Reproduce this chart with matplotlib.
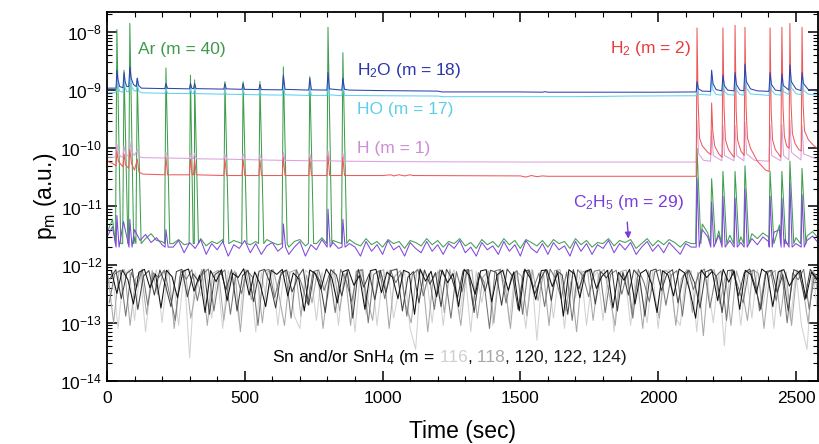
import numpy as np
import matplotlib
matplotlib.use("Agg")
import matplotlib.pyplot as plt
from matplotlib.offsetbox import TextArea, HPacker, AnnotationBbox
from matplotlib.ticker import LogLocator, MultipleLocator, NullFormatter

plt.rcParams['font.family'] = ['Liberation Sans', 'DejaVu Sans']
plt.rcParams['mathtext.fontset'] = 'custom'
plt.rcParams['mathtext.rm'] = 'Liberation Sans'
plt.rcParams['mathtext.it'] = 'Liberation Sans:italic'
plt.rcParams['mathtext.bf'] = 'Liberation Sans:bold'

# ------------------------------------------------------------------
# DATA
# ------------------------------------------------------------------
STEP = 20  # sec between samples of the noisy traces

# the five Sn masses are scanned one after the other, so their samples are shifted in time
SN_OFFSETS = [0, 4, 8, 12, 16]

# Sn / SnH4 traces, units of 1e-13
SN116 = [3.5, 7.9, 0.8, 6.7, 8.1, 1.1, 7.4, 0.7, 5.0, 8.2,
         1.0, 7.2, 6.1, 0.9, 8.0, 0.25, 7.6, 2.9, 8.3, 1.2,
         6.9, 0.8, 7.9, 4.2, 1.0, 8.1, 6.5, 0.7, 7.3, 2.3,
         8.2, 0.9, 5.9, 7.7, 1.3, 0.8, 8.0, 6.8, 1.1, 7.5,
         2.6, 8.1, 0.9, 7.0, 5.5, 0.7, 8.2, 1.4, 7.8, 0.9,
         6.2, 8.0, 1.2, 3.7, 7.6, 0.8, 0.35, 8.1, 6.0, 1.0,
         7.9, 0.9, 5.3, 8.2, 1.3, 7.1, 0.7, 7.7, 2.2, 8.0,
         0.9, 6.6, 8.1, 1.0, 7.4, 4.0, 0.8, 8.2, 0.5, 7.2,
         8.0, 1.2, 6.9, 0.8, 7.8, 2.7, 8.2, 0.9, 5.6, 7.5,
         1.1, 8.1, 0.7, 7.3, 6.4, 0.9, 8.0, 3.2, 1.0, 7.9,
         0.8, 7.6, 8.2, 1.3, 0.9, 6.7, 7.9, 0.7, 8.1, 4.6,
         1.0, 7.4, 0.4, 8.0, 6.1, 0.9, 7.7, 1.2, 8.2, 2.0,
         7.1, 0.8, 8.1, 5.8, 1.1, 7.6, 0.9, 0.35, 7.9, 1.4]
SN118 = [6.4, 1.0, 7.7, 8.2, 0.9, 5.8, 7.5, 1.4, 8.0, 3.1,
         7.3, 8.1, 0.8, 6.2, 7.9, 1.2, 3.9, 8.3, 0.9, 7.1,
         8.0, 1.1, 5.4, 7.8, 0.7, 8.2, 2.5, 6.9, 1.0, 7.6,
         8.2, 3.0, 0.9, 7.4, 8.1, 1.3, 6.6, 2.2, 7.9, 0.8,
         5.1, 8.3, 1.6, 7.0, 0.9, 7.7, 8.1, 2.7, 1.1, 7.4,
         8.2, 0.8, 6.3, 7.9, 2.0, 1.0, 8.0, 7.2, 0.7, 5.9,
         7.6, 1.5, 8.3, 3.5, 0.9, 7.4, 8.1, 1.2, 6.1, 7.8,
         1.0, 8.2, 4.6, 0.8, 7.7, 6.4, 1.3, 8.1, 2.4, 7.0,
         0.9, 7.9, 8.2, 1.6, 5.2, 0.7, 7.5, 8.0, 1.1, 6.8,
         8.3, 2.8, 0.9, 7.6, 8.1, 1.4, 6.0, 0.8, 7.8, 3.3,
         1.2, 8.0, 7.1, 0.9, 5.7, 8.2, 1.5, 7.4, 0.6, 7.9,
         8.1, 2.1, 6.5, 0.9, 7.8, 3.8, 1.1, 8.2, 7.0, 0.8,
         6.3, 8.0, 1.3, 7.5, 0.9, 8.1, 4.4, 1.0, 7.7, 2.6]
SN120 = [2.2, 6.9, 8.0, 1.3, 7.4, 4.1, 8.3, 2.0, 7.2, 6.0,
         8.1, 3.0, 1.1, 7.8, 5.6, 8.2, 2.4, 7.0, 8.4, 1.6,
         6.6, 8.1, 1.4, 7.3, 3.2, 8.0, 6.1, 0.9, 7.7, 8.3,
         2.7, 6.4, 7.9, 1.2, 8.2, 4.4, 2.1, 7.6, 8.1, 3.6,
         7.1, 1.5, 8.3, 5.3, 2.3, 7.7, 8.2, 1.0, 6.8, 7.9,
         2.6, 8.1, 4.9, 7.4, 1.3, 6.7, 8.3, 2.9, 7.0, 1.7,
         8.2, 6.0, 1.2, 7.6, 3.4, 8.1, 2.0, 7.3, 5.1, 0.8,
         7.8, 8.3, 2.2, 6.5, 7.9, 1.4, 8.0, 4.0, 7.2, 1.9,
         8.4, 5.7, 2.6, 7.5, 1.1, 8.2, 6.3, 2.8, 7.7, 8.1,
         1.5, 6.9, 8.0, 3.1, 7.4, 1.2, 8.3, 5.0, 2.3, 7.6,
         8.2, 2.0, 6.6, 7.9, 1.3, 8.1, 3.7, 7.1, 8.4, 1.8,
         6.2, 7.8, 1.1, 8.2, 4.5, 2.2, 7.5, 8.0, 1.6, 6.7,
         7.9, 2.4, 8.1, 1.0, 7.2, 5.5, 8.3, 1.7, 7.0, 4.8]
SN122 = [5.8, 8.2, 2.6, 7.1, 8.4, 1.7, 6.3, 7.9, 3.0, 8.1,
         4.5, 1.9, 7.6, 8.3, 2.8, 7.0, 5.2, 8.4, 1.4, 6.8,
         7.9, 3.7, 8.2, 1.6, 6.5, 8.0, 2.3, 7.7, 8.3, 4.8,
         1.8, 7.3, 8.1, 3.4, 6.0, 8.4, 2.0, 7.5, 5.3, 1.5,
         8.2, 6.7, 2.9, 7.8, 1.2, 8.3, 4.1, 7.0, 2.5, 8.0,
         3.3, 7.9, 8.4, 1.6, 6.1, 7.6, 2.2, 8.1, 4.6, 7.3,
         1.9, 8.3, 5.7, 2.7, 7.8, 8.2, 1.5, 6.9, 3.5, 8.0,
         7.4, 2.0, 8.4, 6.3, 1.7, 7.7, 8.1, 3.1, 5.5, 8.3,
         2.4, 7.9, 6.6, 1.4, 8.2, 3.8, 7.2, 8.0, 2.1, 7.6,
         5.9, 8.3, 1.6, 7.4, 3.0, 8.1, 6.2, 1.3, 7.8, 8.4,
         3.6, 7.0, 8.2, 2.2, 6.4, 8.0, 4.9, 1.8, 7.5, 8.3,
         6.1, 1.5, 7.9, 8.1, 2.9, 7.2, 8.4, 4.3, 1.7, 7.6,
         8.0, 3.3, 6.8, 1.6, 8.2, 7.4, 2.5, 8.3, 6.0, 3.9]
SN124 = [7.8, 3.2, 8.1, 5.5, 2.1, 7.4, 8.3, 4.0, 6.9, 1.8,
         8.0, 6.2, 2.7, 7.7, 8.4, 3.5, 6.6, 1.5, 7.9, 5.1,
         8.2, 2.4, 7.1, 6.0, 8.5, 3.0, 7.5, 4.6, 1.9, 8.0,
         6.8, 8.3, 2.9, 7.2, 5.7, 1.6, 8.1, 7.0, 3.8, 8.4,
         5.9, 2.2, 7.6, 8.2, 4.4, 6.5, 1.7, 7.9, 8.3, 3.3,
         7.4, 6.1, 2.6, 8.0, 7.3, 1.4, 8.4, 5.2, 7.7, 2.8,
         8.1, 4.9, 7.0, 1.9, 8.3, 6.4, 3.1, 7.8, 8.2, 2.3,
         6.7, 8.0, 3.6, 7.5, 1.6, 8.4, 5.8, 2.5, 7.9, 8.1,
         4.2, 7.3, 1.3, 8.2, 6.9, 2.7, 7.6, 8.4, 3.9, 6.3,
         8.0, 1.8, 7.4, 5.4, 8.3, 2.1, 7.1, 8.2, 4.7, 1.5,
         7.9, 6.6, 2.9, 8.4, 7.2, 3.4, 1.2, 8.1, 6.0, 7.7,
         2.4, 8.3, 5.0, 7.8, 1.7, 8.0, 6.8, 3.2, 8.4, 7.1,
         1.9, 7.5, 8.2, 4.3, 6.2, 8.0, 2.6, 7.4, 5.6, 8.1]

# Ar (m = 40): noisy floor (units 1e-12) + gas pulses
AR_BASE = [3.5, 6.0, 4.0, 3.2, 5.0, 3.0, 4.2, 2.8, 3.4, 2.6,
           2.5, 2.9, 2.3, 2.7, 2.2, 2.6, 2.4, 2.8, 2.1, 2.5,
           2.3, 2.7, 2.0, 2.6, 2.4, 2.8, 2.2, 2.5, 2.1, 2.7,
           2.4, 2.2, 2.8, 2.0, 2.5, 2.7, 2.1, 2.6, 2.3, 2.9,
           2.2, 2.6, 2.4, 2.0, 2.7, 2.3, 2.1, 2.8, 2.2, 2.5,
           2.0, 2.7, 2.3, 2.5, 1.9, 2.6, 2.4, 2.1, 2.8, 2.2,
           2.6, 2.0, 2.5, 2.3, 2.8, 2.1, 2.4, 1.9, 2.7, 2.2,
           2.5, 2.0, 2.8, 2.2, 2.6, 1.9, 2.7, 2.4, 2.1, 2.6,
           2.0, 2.7, 2.3, 2.5, 1.9, 2.8, 2.2, 2.6, 2.0, 2.4,
           2.3, 2.8, 2.1, 2.6, 2.4, 2.7, 1.9, 2.3, 2.8, 2.1,
           2.6, 2.2, 2.7, 2.4, 2.0, 2.5, 2.3, 2.8, 5.0, 3.5,
           6.0, 3.8, 5.5, 3.2, 4.5, 3.0, 5.0, 3.4, 2.8, 3.5,
           3.0, 4.2, 4.8, 3.2, 4.0, 2.9, 4.6, 3.1, 3.7, 2.9]
AR_SPIKE_T = [36, 62, 83, 110, 214, 303, 318, 428, 494, 555, 640, 736, 802, 856,
              2141, 2194, 2235, 2279, 2315, 2406, 2449, 2478, 2522]
AR_SPIKE_P = [11000, 2200, 14000, 1600, 2400, 1800, 1500, 1400, 1400, 1400, 2500, 1700, 12000, 4400,
              100, 30, 40, 40, 50, 40, 40, 60, 45]
AR_FOOT = 2.3

# C2H5 (m = 29): units 1e-12
C2H5_BASE = [3.0, 4.5, 3.2, 5.5, 2.8, 4.0, 2.6, 3.3, 2.4, 2.9,
             2.2, 3.0, 2.0, 2.6, 1.6, 2.4, 1.9, 2.7, 1.5, 2.3,
             1.8, 2.5, 1.4, 2.2, 1.9, 2.6, 1.6, 2.3, 1.5, 2.1,
             2.4, 1.7, 2.6, 1.5, 2.0, 2.5, 1.4, 2.2, 1.8, 2.7,
             1.6, 2.4, 1.9, 1.5, 2.3, 2.0, 1.4, 2.5, 1.7, 2.2,
             1.5, 2.6, 1.8, 2.1, 1.4, 2.4, 1.9, 1.6, 2.5, 1.7,
             2.2, 1.5, 2.3, 1.9, 2.6, 1.6, 2.0, 1.4, 2.4, 1.8,
             2.1, 1.5, 2.5, 1.7, 2.2, 1.4, 2.6, 1.9, 1.6, 2.3,
             1.5, 2.4, 1.8, 2.1, 1.4, 2.5, 1.7, 2.3, 1.5, 2.2,
             1.9, 2.6, 1.6, 2.3, 1.8, 2.4, 1.5, 2.0, 2.5, 1.7,
             2.2, 1.6, 2.4, 1.9, 1.5, 2.3, 2.0, 2.6, 4.0, 3.0,
             5.0, 3.2, 4.5, 2.6, 3.8, 2.4, 4.2, 2.8, 2.2, 3.0,
             2.5, 3.6, 4.0, 2.7, 3.4, 2.3, 3.9, 2.6, 3.1, 2.4]
C2H5_SPIKE_T = [36, 83, 214, 640, 802, 856,
                2141, 2194, 2235, 2279, 2315, 2406, 2449, 2478, 2522]
C2H5_SPIKE_P = [7, 6, 4, 5, 9, 6,
                30, 12, 15, 14, 20, 15, 14, 25, 16]
C2H5_FOOT = 2.0

# H2O (m = 18): (time, units 1e-9)
H2O_PTS = [(0, 1.08), (33, 1.08), (36, 2.2), (40, 1.5), (46, 1.15), (58, 1.1), (62, 2.0), (66, 1.4),
           (72, 1.15), (79, 1.15), (83, 2.5), (88, 1.6), (96, 1.25), (106, 1.15), (110, 1.6), (115, 1.2),
           (125, 1.08), (210, 1.06), (214, 1.3), (220, 1.07), (299, 1.05), (303, 1.3), (308, 1.07),
           (314, 1.06), (318, 1.3), (323, 1.06), (424, 1.04), (428, 1.3), (433, 1.05), (490, 1.03),
           (494, 1.3), (499, 1.03), (551, 1.02), (555, 1.25), (560, 1.02), (636, 1.01), (640, 1.8),
           (646, 1.03), (732, 1.0), (736, 1.6), (742, 1.01), (798, 1.0), (802, 2.0), (807, 1.05),
           (852, 1.0), (856, 1.6), (862, 1.03), (880, 1.0), (1000, 0.98), (1200, 0.96), (1215, 0.93),
           (1500, 0.93), (1580, 0.92), (1590, 0.94), (1600, 0.92), (2000, 0.92), (2138, 0.93),
           (2141, 1.4), (2146, 1.05), (2160, 0.96), (2190, 0.95), (2194, 2.2), (2199, 1.3), (2210, 1.02),
           (2231, 0.97), (2235, 1.8), (2240, 1.2), (2252, 1.0), (2275, 0.97), (2279, 2.0), (2284, 1.25),
           (2296, 1.0), (2311, 0.97), (2315, 2.8), (2320, 1.4), (2335, 1.05), (2360, 0.97), (2402, 0.95),
           (2406, 2.0), (2411, 1.25), (2425, 1.0), (2445, 0.97), (2449, 1.9), (2454, 1.2), (2474, 1.0),
           (2478, 2.7), (2483, 1.4), (2500, 1.05), (2518, 0.98), (2522, 2.0), (2527, 1.3), (2545, 1.02),
           (2580, 0.96)]

# HO (m = 17): (time, units 1e-9)
HO_PTS = [(0, 0.90), (33, 0.90), (36, 1.7), (40, 1.2), (46, 0.95), (58, 0.92), (62, 1.6), (66, 1.1),
          (72, 0.94), (79, 0.93), (83, 1.7), (88, 1.2), (96, 1.0), (106, 0.95), (110, 1.3), (115, 0.97),
          (125, 0.90), (210, 0.88), (214, 1.05), (220, 0.88), (299, 0.87), (303, 1.05), (308, 0.87),
          (314, 0.87), (318, 1.05), (323, 0.87), (424, 0.85), (428, 1.0), (433, 0.85), (490, 0.84),
          (494, 1.0), (499, 0.84), (551, 0.83), (555, 0.98), (560, 0.83), (636, 0.82), (640, 1.2),
          (646, 0.83), (732, 0.81), (736, 1.1), (742, 0.81), (798, 0.81), (802, 1.4), (807, 0.83),
          (852, 0.80), (856, 1.2), (862, 0.81), (1000, 0.80), (1200, 0.79), (1220, 0.77), (1700, 0.77),
          (1900, 0.79), (2138, 0.80), (2141, 1.1), (2146, 0.85), (2190, 0.82), (2194, 1.6), (2199, 1.0),
          (2210, 0.84), (2231, 0.82), (2235, 1.4), (2240, 0.95), (2252, 0.84), (2275, 0.82), (2279, 1.5),
          (2284, 1.0), (2296, 0.84), (2311, 0.82), (2315, 2.0), (2320, 1.1), (2335, 0.86), (2402, 0.81),
          (2406, 1.5), (2411, 1.0), (2425, 0.84), (2445, 0.82), (2449, 1.4), (2454, 0.95), (2474, 0.84),
          (2478, 1.9), (2483, 1.1), (2500, 0.87), (2518, 0.83), (2522, 1.5), (2527, 1.0), (2545, 0.85),
          (2580, 0.82)]

# H (m = 1): (time, units 1e-11)
H_PTS = [(0, 7.0), (30, 7.0), (36, 12), (41, 8.5), (50, 7.2), (58, 7.0), (62, 11), (67, 8.0), (79, 7.2),
         (83, 13), (88, 9.0), (100, 7.5), (110, 9.5), (116, 7.2), (130, 6.9), (210, 6.8), (214, 8.5),
         (220, 6.8), (299, 6.7), (303, 8.2), (309, 6.7), (314, 6.7), (318, 8.2), (324, 6.6), (424, 6.5),
         (428, 8.0), (434, 6.5), (490, 6.4), (494, 8.0), (500, 6.4), (551, 6.3), (555, 7.8), (561, 6.3),
         (636, 6.2), (640, 8.5), (646, 6.2), (732, 6.1), (736, 8.0), (742, 6.1), (798, 6.1), (802, 9.0),
         (808, 6.1), (852, 6.0), (856, 8.2), (862, 6.0), (1000, 5.9), (1500, 5.8), (2138, 5.8),
         (2141, 30), (2147, 8), (2165, 6.2), (2190, 6.0), (2194, 20), (2200, 7.5), (2231, 6.1),
         (2235, 25), (2241, 7.5), (2275, 6.1), (2279, 25), (2285, 7.5), (2311, 6.1), (2315, 28),
         (2321, 8), (2350, 6.2), (2402, 6.0), (2406, 25), (2412, 7.5), (2445, 6.1), (2449, 25),
         (2455, 7.5), (2474, 6.3), (2478, 30), (2484, 8.5), (2518, 6.3), (2522, 25), (2528, 8),
         (2580, 6.4)]

# H2 (m = 2): (time, units 1e-11)
H2_PTS = [(0, 6.0), (20, 5.5), (33, 5.0), (36, 9.0), (41, 6.0), (58, 4.8), (62, 8.0), (67, 5.2),
          (79, 4.5), (83, 9.5), (89, 5.5), (100, 4.2), (110, 6.5), (116, 3.9), (130, 3.6), (210, 3.5),
          (214, 7.0), (220, 3.5), (299, 3.5), (303, 6.5), (309, 3.5), (314, 3.5), (318, 6.5), (324, 3.5),
          (424, 3.4), (428, 6.5), (434, 3.4), (490, 3.4), (494, 6.5), (500, 3.4), (551, 3.4), (555, 6.3),
          (561, 3.4), (636, 3.4), (640, 7.0), (646, 3.4), (732, 3.4), (736, 6.8), (742, 3.4), (798, 3.4),
          (802, 7.5), (808, 3.4), (852, 3.4), (856, 7.0), (862, 3.4), (1000, 3.4), (1030, 3.5),
          (1040, 3.35), (1060, 3.5), (1080, 3.35), (1100, 3.5), (1110, 3.4), (1500, 3.35), (1520, 3.2),
          (1540, 3.4), (1560, 3.25), (1580, 3.35), (1600, 3.3), (2138, 3.3),
          (2141, 1170), (2145, 60), (2150, 15), (2160, 11), (2180, 8.5), (2191, 7.8), (2194, 60),
          (2198, 20), (2205, 11), (2220, 8.0), (2232, 7.0), (2235, 1170), (2239, 50), (2244, 14),
          (2255, 9.5), (2270, 7.5), (2276, 7.0), (2279, 1300), (2283, 45), (2288, 14), (2300, 9.0),
          (2312, 7.5), (2315, 1200), (2319, 50), (2324, 15), (2335, 10), (2360, 6.0), (2390, 4.2),
          (2403, 4.0), (2406, 1170), (2410, 45), (2415, 14), (2425, 9.5), (2445, 7.0), (2449, 1200),
          (2453, 50), (2458, 16), (2466, 11), (2475, 10), (2478, 1400), (2482, 60), (2487, 18),
          (2497, 12), (2510, 9.5), (2519, 9.0), (2522, 1200), (2526, 55), (2531, 20), (2545, 14),
          (2565, 11), (2580, 10)]

COLORS = {
    'ar': '#3f9f4f', 'h2o': '#3042b0', 'ho': '#62d2ec', 'h': '#d9a3dc',
    'h2': '#ee5a5a', 'c2h5': '#8048dc',
    'sn116': '#d2d2d2', 'sn118': '#a8a8a8', 'sn120': '#767676',
    'sn122': '#424242', 'sn124': '#101010',
}


def grid_trace(vals, unit, offset=0):
    t = np.arange(len(vals)) * STEP + offset
    return t, np.asarray(vals, float) * unit


def trace_with_spikes(base, spike_t, spike_p, foot, unit, pre=4, post=9):
    t, p = grid_trace(base, 1.0)
    keep = np.ones(len(t), bool)
    for s in spike_t:
        keep &= ~((t >= s - pre) & (t <= s + post))
    st = np.asarray(spike_t, float)
    tt = np.concatenate([t[keep], st - pre, st, st + post])
    pp = np.concatenate([p[keep], np.full(len(st), foot), np.asarray(spike_p, float),
                         np.full(len(st), foot)])
    order = np.argsort(tt, kind='stable')
    return tt[order], pp[order] * unit


def pts(pairs, unit):
    a = np.array(pairs, float)
    return a[:, 0], a[:, 1] * unit


fig = plt.figure(figsize=(8.19, 4.44), dpi=100)
ax = fig.add_axes([0.1306, 0.1419, 0.8682, 0.8311])

lw = 0.75
sn_sets = [(SN116, 'sn116'), (SN118, 'sn118'), (SN120, 'sn120'), (SN122, 'sn122'), (SN124, 'sn124')]
for (vals, key), off in zip(sn_sets, SN_OFFSETS):
    ax.plot(*grid_trace(vals, 1e-13, off), color=COLORS[key], lw=lw)

ax.plot(*trace_with_spikes(AR_BASE, AR_SPIKE_T, AR_SPIKE_P, AR_FOOT, 1e-12, 5, 14),
        color=COLORS['ar'], lw=lw)
ax.plot(*trace_with_spikes(C2H5_BASE, C2H5_SPIKE_T, C2H5_SPIKE_P, C2H5_FOOT, 1e-12, 3, 8),
        color=COLORS['c2h5'], lw=lw)
ax.plot(*pts(H_PTS, 1e-11), color=COLORS['h'], lw=lw)
ax.plot(*pts(H2_PTS, 1e-11), color=COLORS['h2'], lw=lw)
ax.plot(*pts(HO_PTS, 1e-9), color=COLORS['ho'], lw=lw)
ax.plot(*pts(H2O_PTS, 1e-9), color=COLORS['h2o'], lw=lw)

# axes
ax.set_yscale('log')
ax.set_xlim(0, 2580)
ax.set_ylim(1e-14, 2.2e-8)
ax.xaxis.set_major_locator(MultipleLocator(500))
ax.xaxis.set_minor_locator(MultipleLocator(100))
ax.yaxis.set_major_locator(LogLocator(base=10, numticks=20))
ax.yaxis.set_minor_locator(LogLocator(base=10, subs=np.arange(2, 10), numticks=20))
ax.yaxis.set_minor_formatter(NullFormatter())
ax.tick_params(which='both', direction='in', top=True, right=True, labelsize=12.5)
ax.tick_params(which='major', length=7, width=1.1)
ax.tick_params(axis='x', which='major', pad=7)
ax.tick_params(which='minor', length=3.5, width=0.8)
for sp in ax.spines.values():
    sp.set_linewidth(1.3)

ax.set_xlabel('Time (sec)', fontsize=16.5, labelpad=10)
ax.set_ylabel(r'p$_{\mathrm{m}}$ (a.u.)', fontsize=16.5, labelpad=1)

# species labels
fs = 12.5
ax.text(112, 4.9e-9, 'Ar (m = 40)', color='#3c9a48', fontsize=fs, va='center')
ax.text(907, 2.2e-9, r'H$_2$O (m = 18)', color='#2b35a8', fontsize=fs, va='center')
ax.text(907, 4.6e-10, 'HO (m = 17)', color='#5ccfe8', fontsize=fs, va='center')
ax.text(907, 9.8e-11, 'H (m = 1)', color='#d08ad6', fontsize=fs, va='center')
ax.text(1825, 5.1e-9, r'H$_2$ (m = 2)', color='#e83c3c', fontsize=fs, va='center')
ax.text(1691, 1.15e-11, r'C$_2$H$_5$ (m = 29)', color='#7a3cd8', fontsize=fs, va='center')
ax.annotate('', xy=(1893, 2.5e-12), xytext=(1887, 6.0e-12),
            arrowprops=dict(arrowstyle='-|>', color='#7a3cd8', lw=1.0, mutation_scale=9))

parts = [(r'Sn and/or SnH$_4$ (m =', 'black'), (' 116', '#d0d0d0'), (',', 'black'),
         (' 118', '#a8a8a8'), (', 120, 122, 124)', '#1a1a1a')]
boxes = [TextArea(s, textprops=dict(color=c, fontsize=fs)) for s, c in parts]
pack = HPacker(children=boxes, align='baseline', pad=0, sep=0)
ab = AnnotationBbox(pack, (599, 2.5e-14), xycoords='data', box_alignment=(0, 0.5), frameon=False)
ax.add_artist(ab)

fig.savefig('out.png', dpi=100)
